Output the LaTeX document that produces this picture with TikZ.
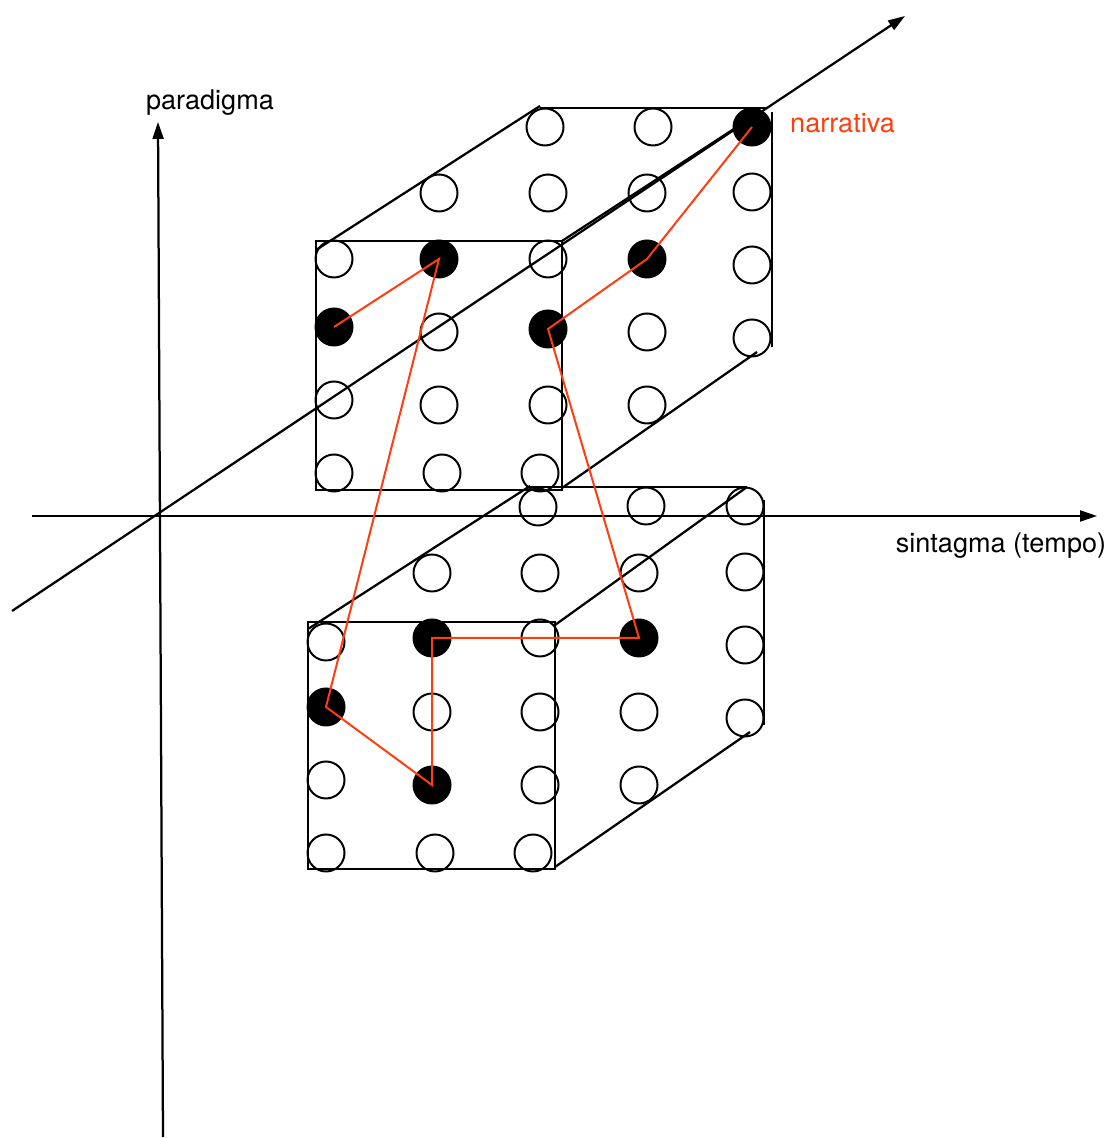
\documentclass[tikz,border=0pt]{standalone}
\usepackage{fontspec}
\setmainfont{TeX Gyre Heros}
\usetikzlibrary{arrows.meta}
\definecolor{narrred}{RGB}{255,62,15}
\tikzset{
  hole/.style={circle, draw, line width=0.040000cm, minimum size=0.740000cm, inner sep=0pt},
  stone/.style={hole, fill=black},
  cubeline/.style={line width=0.045000cm},
  axisline/.style={line width=0.045000cm, -{Triangle[length=0.340000cm,width=0.220000cm]}},
  narrline/.style={draw=narrred, line width=0.040000cm},
  axislabel/.style={inner sep=0pt, anchor=base, font=\fontsize{15.4pt}{18pt}\selectfont}
}
\begin{document}
\begin{tikzpicture}
            \useasboundingbox (0,0) rectangle (22.220000,22.760000);
            
            % Axis paradigma
            \coordinate (pbot) at (3.260000,0.020000);%
            \coordinate (ptop) at (3.160000,20.320000);%
            \draw [axisline] (pbot) -- (ptop);%
            \node [axislabel] (plabel) at (4.200000,20.560000) {paradigma};%
            
            % Axis sintagma
            \coordinate (sleft) at (0.640000,12.440000);%
            \coordinate (sright) at (21.940000,12.440000);%
            \draw [axisline] (sleft) -- (sright);%
            \node [axislabel] (slabel) at (20.020000,11.700000) {sintagma (tempo)};%
            
            % Axis in depth
            \coordinate (dlow) at (0.240000,10.540000);%
            \coordinate (dhigh) at (18.100000,22.440000);%
            \draw [axisline] (dlow) -- (dhigh);%
            
            % Drawing upper cube
            \draw [cubeline] (6.320000,17.940000) rectangle (11.240000,12.960000);%
            \draw [cubeline] (6.320000,17.760000) -- (10.800000,20.640000);%
            \draw [cubeline] (10.800000,20.600000) -- (15.360000,20.600000);%
            \draw [cubeline] (11.240000,17.940000) -- (15.200000,20.520000);%
            \draw [cubeline] (15.440000,20.520000) -- (15.440000,15.820000);%
            \draw [cubeline] (11.240000,13.000000) -- (15.140000,15.720000);%
            
            % Drawing lower cube
            \draw [cubeline] (6.160000,10.320000) rectangle (11.100000,5.380000);%
            \draw [cubeline] (6.160000,10.180000) -- (10.600000,13.040000);%
            \draw [cubeline] (10.600000,13.020000) -- (14.940000,13.020000);%
            \draw [cubeline] (11.100000,10.260000) -- (14.940000,13.020000);%
            \draw [cubeline] (15.280000,12.760000) -- (15.280000,8.260000);%
            \draw [cubeline] (11.100000,5.420000) -- (15.000000,8.120000);%
            
            % Marking upper cube, row 1
            \node [hole] (u13) at (10.900000,20.220000) {};%
            \node [hole] (u14) at (13.060000,20.220000) {};%
            \node [stone] (u15) at (15.040000,20.220000) {};%
            
            % Marking upper cube, row 2
            \node [hole] (u22) at (8.780000,18.900000) {};%
            \node [hole] (u23) at (10.960000,18.900000) {};%
            \node [hole] (u24) at (12.940000,18.900000) {};%
            \node [hole] (u25) at (15.040000,18.920000) {};%
            
            % Marking upper cube, row 3
            \node [hole] (u31) at (6.680000,17.580000) {};%
            \node [stone] (u32) at (8.780000,17.580000) {};%
            \node [hole] (u33) at (10.960000,17.580000) {};%
            \node [stone] (u34) at (12.940000,17.580000) {};%
            \node [hole] (u35) at (15.040000,17.460000) {};%
            
            % Marking upper cube, row 4
            \node [stone] (u41) at (6.680000,16.220000) {};%
            \node [hole] (u42) at (8.780000,16.120000) {};%
            \node [stone] (u43) at (10.960000,16.180000) {};%
            \node [hole] (u44) at (12.940000,16.120000) {};%
            \node [hole] (u45) at (15.040000,16.000000) {};%
            
            % Marking upper cube, row 5
            \node [hole] (u51) at (6.680000,14.760000) {};%
            \node [hole] (u52) at (8.780000,14.660000) {};%
            \node [hole] (u53) at (10.960000,14.660000) {};%
            \node [hole] (u54) at (12.940000,14.660000) {};%
            
            % Marking upper cube, row 6
            \node [hole] (u61) at (6.680000,13.300000) {};%
            \node [hole] (u62) at (8.840000,13.300000) {};%
            \node [hole] (u63) at (10.800000,13.300000) {};%
            
            % Marking lower cube, row 1
            \node [hole] (l13) at (10.760000,12.620000) {};%
            \node [hole] (l14) at (12.920000,12.640000) {};%
            \node [hole] (l15) at (14.900000,12.640000) {};%
            
            % Marking lower cube, row 2
            \node [hole] (l22) at (8.640000,11.300000) {};%
            \node [hole] (l23) at (10.800000,11.300000) {};%
            \node [hole] (l24) at (12.780000,11.300000) {};%
            \node [hole] (l25) at (14.900000,11.320000) {};%
            
            % Marking lower cube, row 3
            \node [hole] (l31) at (6.520000,9.920000) {};%
            \node [stone] (l32) at (8.640000,10.000000) {};%
            \node [hole] (l33) at (10.800000,10.000000) {};%
            \node [stone] (l34) at (12.780000,10.000000) {};%
            \node [hole] (l35) at (14.900000,9.860000) {};%
            
            % Marking lower cube, row 4
            \node [stone] (l41) at (6.520000,8.620000) {};%
            \node [hole] (l42) at (8.640000,8.520000) {};%
            \node [hole] (l43) at (10.800000,8.520000) {};%
            \node [hole] (l44) at (12.780000,8.520000) {};%
            \node [hole] (l45) at (14.900000,8.400000) {};%
            
            % Marking lower cube, row 5
            \node [hole] (l51) at (6.520000,7.160000) {};%
            \node [stone] (l52) at (8.640000,7.060000) {};%
            \node [hole] (l53) at (10.800000,7.060000) {};%
            \node [hole] (l54) at (12.780000,7.060000) {};%
            
            % Marking lower cube, row 6
            \node [hole] (l61) at (6.520000,5.700000) {};%
            \node [hole] (l62) at (8.700000,5.700000) {};%
            \node [hole] (l63) at (10.660000,5.700000) {};%
            
            % Drawing the narrativa path
            \draw [narrline] (u41.center) -- (u32.center) -- (l41.center) -- (l52.center)
                -- (l32.center) -- (l34.center) -- (u43.center) -- (u34.center) -- (u15.center);%
            \node [axislabel, text=narrred] (nlabel) at (16.850000,20.100000) {narrativa};%
        \end{tikzpicture}
\end{document}
